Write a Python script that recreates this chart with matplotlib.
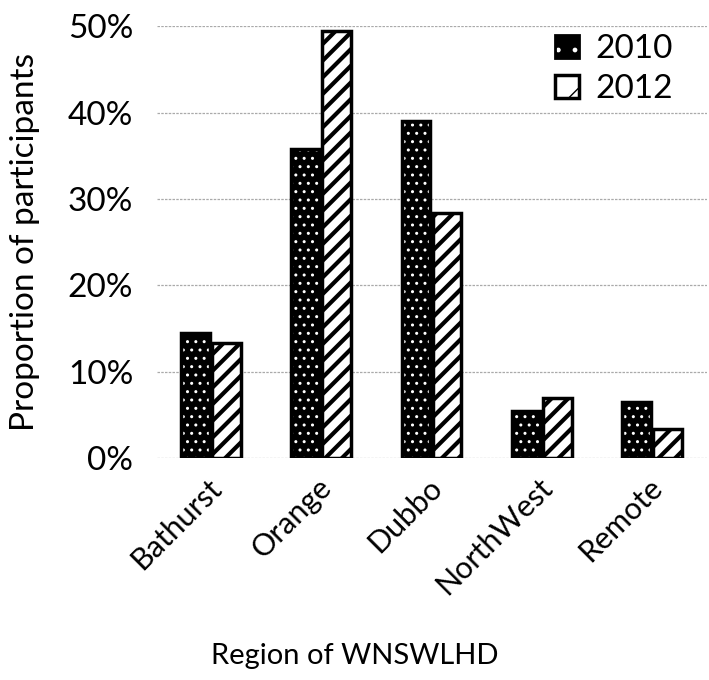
import numpy as np
import matplotlib
matplotlib.use('Agg')
import matplotlib.pyplot as plt
from matplotlib.patches import Patch
from matplotlib.legend_handler import HandlerTuple
from matplotlib.ticker import PercentFormatter
from matplotlib.transforms import ScaledTranslation

# values (percent)
regions = ['Bathurst', 'Orange', 'Dubbo', 'NorthWest', 'Remote']
pct_2010 = [14.5, 35.8, 39.0, 5.4, 6.5]
pct_2012 = [13.3, 49.4, 28.4, 6.9, 3.4]
years = ['2010', '2012']

plt.rcParams['font.family'] = ['Lato', 'DejaVu Sans']
FS = 24

fig = plt.figure(figsize=(7.09, 6.8), dpi=100)
ax = fig.add_axes([0.2214, 0.3265, 0.776, 0.635])

x = np.arange(len(regions))
w = 0.26
off = 0.14

# 2010: black bars with white dots
with plt.rc_context({'hatch.linewidth': 1.0}):
    ax.bar(x - off, pct_2010, w, color='black', edgecolor='white', hatch='..',
           linewidth=0, zorder=3)
ax.bar(x - off, pct_2010, w, fill=False, edgecolor='black', linewidth=2.5, zorder=4)

# 2012: white bars with thick black diagonal stripes
with plt.rc_context({'hatch.linewidth': 3.0}):
    ax.bar(x + off, pct_2012, w, color='white', edgecolor='black', hatch='//',
           linewidth=0, zorder=3)
ax.bar(x + off, pct_2012, w, fill=False, edgecolor='black', linewidth=2.5, zorder=4)

ax.set_xlim(-0.49, 4.5)
ax.set_ylim(0, 50)
ax.set_yticks(np.arange(0, 51, 10))
ax.yaxis.set_major_formatter(PercentFormatter(decimals=0))
ax.grid(axis='y', color='#aaaaaa', linestyle=(0, (2, 1)), linewidth=0.9, zorder=0)
ax.set_axisbelow(True)
for s in ax.spines.values():
    s.set_visible(False)
ax.tick_params(length=0, labelsize=FS)
ax.tick_params(axis='y', pad=17)
ax.set_xticks(x)
ax.set_xticklabels(regions, rotation=45, ha='right', va='top', rotation_mode='anchor',
                   fontsize=22)
ax.tick_params(axis='x', pad=11)
shift = ScaledTranslation(-3 / 72, 0, fig.dpi_scale_trans)
for lab in ax.get_xticklabels():
    lab.set_transform(lab.get_transform() + shift)

ax.set_ylabel('Proportion of participants', fontsize=FS)
ax.yaxis.set_label_coords(-0.212, 0.5)
ax.set_xlabel('Region of WNSWLHD', fontsize=21)
ax.xaxis.set_label_coords(0.36, -0.428)

# legend with proxy handles
with plt.rc_context({'hatch.linewidth': 1.0}):
    h2010 = (Patch(facecolor='black', edgecolor='white', hatch='.', linewidth=0),
             Patch(fill=False, edgecolor='black', linewidth=2.0))
with plt.rc_context({'hatch.linewidth': 3.0}):
    h2012 = (Patch(facecolor='white', edgecolor='black', hatch='/', linewidth=0),
             Patch(fill=False, edgecolor='black', linewidth=2.5))
ax.legend([h2010, h2012], years, handler_map={tuple: HandlerTuple(ndivide=1)},
          loc='upper right', bbox_to_anchor=(0.98, 1.035), frameon=False, fontsize=FS,
          handlelength=0.7, handleheight=0.7, handletextpad=0.5, labelspacing=0.3,
          borderpad=0.2)

fig.savefig('out.png', dpi=100)
